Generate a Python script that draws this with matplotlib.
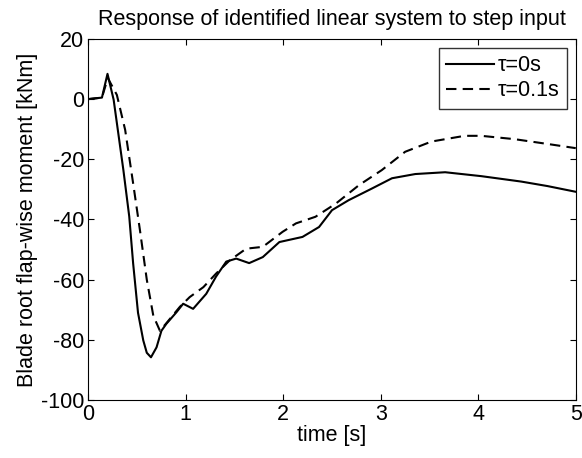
import matplotlib
matplotlib.use("Agg")
import matplotlib.pyplot as plt

plt.rcParams['font.family'] = ['Liberation Sans', 'DejaVu Sans']
plt.rcParams['axes.unicode_minus'] = False

t_solid = [0.0, 0.14, 0.197, 0.26, 0.36, 0.42, 0.46, 0.51, 0.564, 0.60, 0.643, 0.70, 0.75, 0.80,
           0.905, 0.973, 1.075, 1.21, 1.31, 1.415, 1.517, 1.65, 1.79, 1.96, 2.197, 2.367,
           2.5, 2.67, 2.91, 3.115, 3.354, 3.66, 4.03, 4.44, 4.71, 5.0]
y_solid = [0.0, 0.5, 8.4, -0.2, -23.6, -39.0, -54.6, -71.0, -80.2, -84.3, -85.8, -82.5, -77.0, -74.7,
           -70.8, -68.0, -69.7, -64.7, -59.0, -54.0, -53.0, -54.5, -52.5, -47.5, -45.8, -42.5,
           -36.9, -33.6, -29.7, -26.3, -24.9, -24.3, -25.6, -27.4, -28.9, -30.8]

t_dash = [0.0, 0.14, 0.2, 0.293, 0.378, 0.46, 0.53, 0.6, 0.667, 0.735, 0.80, 0.94, 1.04,
          1.18, 1.31, 1.45, 1.62, 1.79, 1.993, 2.13, 2.33, 2.54, 2.776, 3.01, 3.25, 3.52,
          3.86, 4.03, 4.37, 4.71, 5.0]
y_dash = [0.0, 0.5, 7.0, 1.4, -10.2, -28.0, -43.6, -60.0, -72.0, -77.0, -74.5, -69.0, -65.8,
          -62.5, -58.0, -53.6, -49.7, -49.1, -44.1, -41.3, -39.1, -34.7, -28.6, -23.6, -17.5,
          -14.1, -12.2, -12.2, -13.3, -14.9, -16.3]

labels = ['τ=0s', 'τ=0.1s']

fig = plt.figure(figsize=(5.82, 4.58), dpi=100)
ax = fig.add_axes([0.1517, 0.1266, 0.8376, 0.7884])
ax.plot(t_solid, y_solid, 'k-', lw=1.5, label=labels[0])
ax.plot(t_dash, y_dash, 'k--', lw=1.5, label=labels[1], dashes=(5, 3))
ax.set_xlim(0, 5)
ax.set_ylim(-100, 20)
ax.set_xticks([0, 1, 2, 3, 4, 5])
ax.set_yticks([-100, -80, -60, -40, -20, 0, 20])
ax.tick_params(direction='in', top=True, right=True, labelsize=15.5, length=4, pad=3)
ax.set_xlabel('time [s]', fontsize=15.5, labelpad=0)
ax.set_ylabel('Blade root flap-wise moment [kNm]', fontsize=15.5, labelpad=2)
ax.set_title('Response of identified linear system to step input', fontsize=15.5, pad=10)
leg = ax.legend(loc='upper right', fontsize=15.5, frameon=True, fancybox=False,
                edgecolor='black', handlelength=2.2, borderaxespad=0.4,
                handletextpad=0.2, labelspacing=0.2, borderpad=0.35)
leg.get_frame().set_linewidth(1.0)
fig.savefig('out.png', dpi=100)
